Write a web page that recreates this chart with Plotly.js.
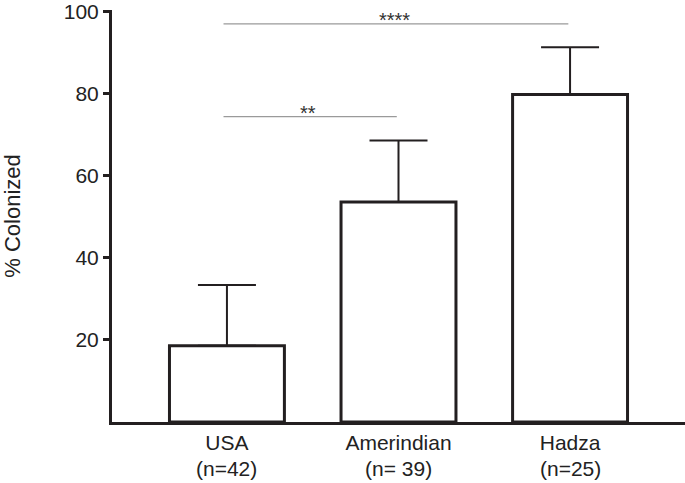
<!DOCTYPE html>
<html>
<head>
<meta charset="utf-8">
<script src="https://cdn.plot.ly/plotly-3.0.1.min.js"></script>
<style>
  html, body { margin: 0; padding: 0; background: #fff; }
  #chart { width: 685px; height: 483px; }
</style>
</head>
<body>
<div id="chart"></div>
<script>
// ---- data ----
const categories = ['USA', 'Amerindian', 'Hadza'];
const sampleLabels = ['(n=42)', '(n= 39)', '(n=25)'];
const colonized = [18.6, 53.6, 79.8];
const errorUp = [14.8, 15.0, 11.5];

const sigFrom = [0, 0];
const sigTo = [1, 2];
const sigLevel = [74.4, 97.0];
const sigLabel = ['**', '****'];
const yTicks = [20, 40, 60, 80, 100];

const ink = '#231f20';
const FONT = 'Liberation Sans, Arial, sans-serif';
const xIdx = categories.map((c, i) => i);

const trace = {
  type: 'bar',
  x: xIdx,
  y: colonized,
  width: 0.67,
  marker: { color: '#ffffff', line: { color: ink, width: 3 } },
  error_y: {
    type: 'data', symmetric: false,
    array: errorUp, arrayminus: colonized.map(() => 0),
    color: ink, thickness: 2, width: 29
  },
  hoverinfo: 'none'
};

const shapes = sigFrom.map((f, i) => ({
  type: 'line', xref: 'x', yref: 'y',
  x0: f - 0.02, x1: sigTo[i] - 0.01, y0: sigLevel[i], y1: sigLevel[i],
  line: { color: '#9a9a9a', width: 1.3 }
}));

const annotations = sigFrom.map((f, i) => ({
  xref: 'x', yref: 'y', x: (f + sigTo[i]) / 2 - 0.025, y: sigLevel[i],
  text: sigLabel[i], showarrow: false, yanchor: 'bottom', yshift: -9,
  font: { family: FONT, size: 20, color: '#333' }
})).concat(sampleLabels.map((s, i) => ({
  xref: 'x', yref: 'paper', x: xIdx[i], y: 0,
  text: s, showarrow: false, yanchor: 'top', yshift: -33,
  font: { family: FONT, size: 21, color: '#222' }
})));

const layout = {
  width: 685, height: 483,
  margin: { l: 112, r: 0, t: 10, b: 61 },
  paper_bgcolor: '#fff', plot_bgcolor: '#fff',
  showlegend: false,
  font: { family: FONT, color: ink },
  xaxis: {
    range: [-0.67, 2.67],
    tickvals: xIdx, ticktext: categories,
    ticks: '', showgrid: false, zeroline: false,
    showline: true, linecolor: ink, linewidth: 3,
    tickfont: { size: 21, color: '#222' }
  },
  yaxis: {
    range: [0, 100.4],
    tickvals: yTicks, ticktext: yTicks.map(String),
    ticks: 'outside', ticklen: 6, tickwidth: 3, tickcolor: ink,
    ticklabeloverflow: 'allow',
    showgrid: false, zeroline: false,
    showline: true, linecolor: ink, linewidth: 3,
    tickfont: { size: 21, color: '#222' },
    title: { text: '% Colonized', font: { size: 22, color: '#222' }, standoff: 50 }
  },
  shapes: shapes,
  annotations: annotations
};

Plotly.newPlot('chart', [trace], layout, { staticPlot: true, displayModeBar: false });
</script>
</body>
</html>
